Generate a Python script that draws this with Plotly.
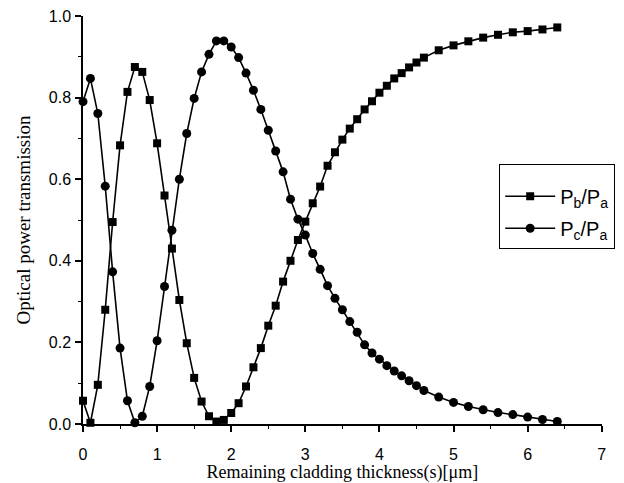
import plotly.graph_objects as go

# x positions (um)
x_fine = [round(0.1 * i, 1) for i in range(0, 47)]          # 0.0 .. 4.6
x_coarse = [4.8, 5.0, 5.2, 5.4, 5.6, 5.8, 6.0, 6.2, 6.4]
x_vals = x_fine + x_coarse

pb_pa = [0.057, 0.003, 0.096, 0.280, 0.495, 0.683, 0.814, 0.875, 0.863, 0.794,
         0.688, 0.560, 0.430, 0.304, 0.198, 0.113, 0.055, 0.019, 0.006, 0.010,
         0.027, 0.051, 0.092, 0.139, 0.186, 0.241, 0.290, 0.349, 0.400, 0.451,
         0.496, 0.541, 0.582, 0.633, 0.666, 0.697, 0.724, 0.747, 0.771, 0.791,
         0.812, 0.829, 0.847, 0.860, 0.874, 0.886, 0.898,
         0.916, 0.928, 0.938, 0.947, 0.954, 0.960, 0.963, 0.967, 0.972]

pc_pa = [0.790, 0.847, 0.761, 0.583, 0.373, 0.186, 0.057, 0.003, 0.019, 0.092,
         0.204, 0.337, 0.475, 0.600, 0.712, 0.798, 0.863, 0.906, 0.939, 0.939,
         0.924, 0.898, 0.860, 0.818, 0.771, 0.720, 0.669, 0.618, 0.551, 0.502,
         0.463, 0.418, 0.379, 0.339, 0.308, 0.280, 0.251, 0.225, 0.194, 0.174,
         0.159, 0.143, 0.130, 0.118, 0.106, 0.094, 0.082,
         0.066, 0.053, 0.043, 0.035, 0.028, 0.023, 0.017, 0.011, 0.006]

x_ticks = [0, 1, 2, 3, 4, 5, 6, 7]
y_ticks = [0.0, 0.2, 0.4, 0.6, 0.8, 1.0]

fig = go.Figure()
fig.add_trace(go.Scatter(
    x=x_vals, y=pb_pa, mode="lines+markers", name="P<sub>b</sub>/P<sub>a</sub>",
    legendgroup="b",
    line=dict(color="black", width=1.6),
    marker=dict(symbol="square", size=8, color="black"),
    cliponaxis=False))
fig.add_trace(go.Scatter(
    x=x_vals, y=pc_pa, mode="lines+markers", name="P<sub>c</sub>/P<sub>a</sub>",
    legendgroup="c",
    line=dict(color="black", width=1.6),
    marker=dict(symbol="circle", size=9, color="black"),
    cliponaxis=False))

axis_common = dict(showline=True, linecolor="black", linewidth=1.5, mirror=False,
                   showgrid=False, zeroline=False, ticks="outside", tickcolor="black",
                   tickwidth=1.5, ticklen=6, automargin=False,
                   tickfont=dict(family="Liberation Sans, Arial", size=16, color="black"))

fig.update_xaxes(range=[0, 7], domain=[0, 0.966],
                 tickvals=x_ticks, ticktext=[str(v) for v in x_ticks],
                 ticklabelstandoff=9,
                 minor=dict(ticks="outside", ticklen=3, dtick=0.5, tickcolor="black", tickwidth=1),
                 title=dict(text="Remaining cladding thickness(s)[μm]", standoff=8,
                            font=dict(family="Liberation Serif, Times New Roman", size=18, color="black")),
                 **axis_common)
fig.update_yaxes(range=[0, 1.0], tickvals=y_ticks, ticktext=["%.1f" % v for v in y_ticks],
                 ticklabelstandoff=1,
                 minor=dict(ticks="outside", ticklen=3, dtick=0.1, tickcolor="black", tickwidth=1),
                 title=dict(text="Optical power transmission", standoff=13,
                            font=dict(family="Liberation Serif, Times New Roman", size=19, color="black")),
                 **axis_common)

fig.update_layout(
    width=624, height=483,
    margin=dict(l=83, r=4, t=16, b=59),
    plot_bgcolor="white", paper_bgcolor="white",
    showlegend=True,
    legend=dict(x=0.775, y=0.637, xanchor="left", yanchor="top",
                bordercolor="black", borderwidth=1, bgcolor="white",
                title=dict(text=" ", font=dict(size=9)),
                font=dict(family="Liberation Sans, Arial", size=20, color="black"),
                tracegroupgap=3, itemwidth=50),
)

fig.write_html("out.html")
